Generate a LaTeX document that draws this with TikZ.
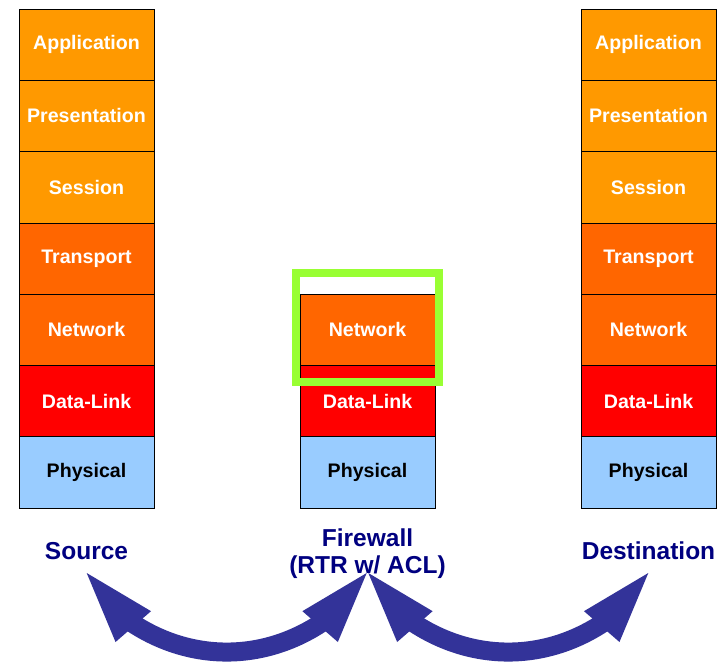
\documentclass[tikz,border=0pt]{standalone}
\usepackage{fontspec}
\setmainfont{Liberation Sans}
\usetikzlibrary{calc}

\definecolor{upper}{HTML}{FF9900}
\definecolor{middle}{HTML}{FF6600}
\definecolor{linkred}{HTML}{FF0000}
\definecolor{phys}{HTML}{99CCFF}
\definecolor{navy}{HTML}{000080}
\definecolor{arrowblue}{HTML}{333399}
\definecolor{limegreen}{HTML}{99FF33}

\tikzset{
  layer/.style={draw=black, line width=0.8pt, minimum width=135pt, minimum height=71.3pt,
    inner sep=0pt, font=\fontsize{19.6}{21}\selectfont\bfseries, text=white},
  applayer/.style={layer, fill=upper},
  netlayer/.style={layer, fill=middle},
  linklayer/.style={layer, fill=linkred},
  physlayer/.style={layer, fill=phys, text=black},
  hostlabel/.style={text=navy, font=\fontsize{24.5}{27}\selectfont\bfseries, inner sep=0pt, anchor=base},
  shaft/.style={draw=arrowblue, line width=19pt},
  headfill/.style={fill=arrowblue},
}

\begin{document}
\begin{tikzpicture}[x=1pt, y=-1pt]
  \useasboundingbox[fill=white] (0,0) rectangle (727,661);

  % Source stack
  \node[applayer]  (sApp)  at (86.5, 44.65)  {Application};
  \node[applayer]  (sPres) at (86.5, 115.95) {Presentation};
  \node[applayer]  (sSess) at (86.5, 187.25) {Session};
  \node[netlayer]  (sTrans) at (86.5, 258.55) {Transport};
  \node[netlayer]  (sNet)  at (86.5, 329.85) {Network};
  \node[linklayer] (sLink) at (86.5, 401.15) {Data-Link};
  \node[physlayer] (sPhys) at (86.5, 472.45) {Physical};

  % Firewall stack
  \node[netlayer]  (fNet)  at (367.5, 329.85) {Network};
  \node[linklayer] (fLink) at (367.5, 401.15) {Data-Link};
  \node[physlayer] (fPhys) at (367.5, 472.45) {Physical};

  % Destination stack
  \node[applayer]  (dApp)  at (648.5, 44.65)  {Application};
  \node[applayer]  (dPres) at (648.5, 115.95) {Presentation};
  \node[applayer]  (dSess) at (648.5, 187.25) {Session};
  \node[netlayer]  (dTrans) at (648.5, 258.55) {Transport};
  \node[netlayer]  (dNet)  at (648.5, 329.85) {Network};
  \node[linklayer] (dLink) at (648.5, 401.15) {Data-Link};
  \node[physlayer] (dPhys) at (648.5, 472.45) {Physical};

  % Highlight around the filtering layer
  \draw[limegreen, line width=7.5pt] (296,273) rectangle (439,382);

  % Host labels
  \node[hostlabel] (src)  at (86.5, 559)  {Source};
  \node[hostlabel] (fw)   at (367.5, 546) {Firewall};
  \node[hostlabel] (fwSub) at (367.5, 573) {(RTR w/ ACL)};
  \node[hostlabel] (dst)  at (648.5, 559) {Destination};

  % Arrow tips
  \coordinate (srcTip) at (86.7, 573);
  \coordinate (fwTipL) at (366.7, 573);
  \coordinate (fwTipR) at (368.3, 573);
  \coordinate (dstTip) at (648.3, 573);

  % Curved shafts
  \draw[shaft] ($(srcTip)+(40.7,46.8)$) .. controls +(61.4,43) and +(-61.4,43) .. ($(fwTipL)+(-40.7,46.8)$);
  \draw[shaft] ($(fwTipR)+(40.7,46.8)$) .. controls +(61.4,43) and +(-61.4,43) .. ($(dstTip)+(-40.7,46.8)$);

  % Arrow heads
  \fill[headfill, shift={(srcTip)}, rotate=-49]  (0,0) -- (71,23.5) -- (71,-23.5) -- cycle;
  \fill[headfill, shift={(fwTipL)}, rotate=-131] (0,0) -- (71,23.5) -- (71,-23.5) -- cycle;
  \fill[headfill, shift={(fwTipR)}, rotate=-49]  (0,0) -- (71,23.5) -- (71,-23.5) -- cycle;
  \fill[headfill, shift={(dstTip)}, rotate=-131] (0,0) -- (71,23.5) -- (71,-23.5) -- cycle;
\end{tikzpicture}
\end{document}
